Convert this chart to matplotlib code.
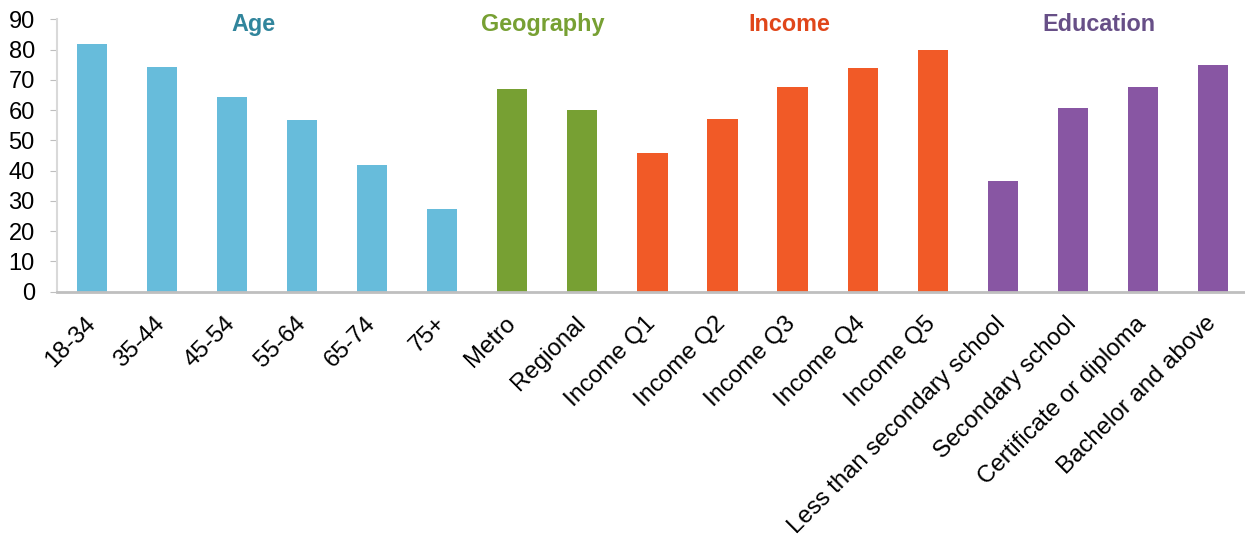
import matplotlib
matplotlib.use("Agg")
import matplotlib.pyplot as plt
import matplotlib.transforms as mtransforms
import numpy as np

plt.rcParams['font.family'] = ['Liberation Sans', 'DejaVu Sans']

categories = ['18-34', '35-44', '45-54', '55-64', '65-74', '75+',
              'Metro', 'Regional',
              'Income Q1', 'Income Q2', 'Income Q3', 'Income Q4', 'Income Q5',
              'Less than secondary school', 'Secondary school',
              'Certificate or diploma', 'Bachelor and above']
values = [81.8, 74.4, 64.5, 56.7, 42.0, 27.4,
          66.9, 59.9,
          45.9, 57.1, 67.5, 73.8, 79.9,
          36.6, 60.6, 67.8, 74.9]
groups = ['Age'] * 6 + ['Geography'] * 2 + ['Income'] * 5 + ['Education'] * 4
group_names = ['Age', 'Geography', 'Income', 'Education']
group_label_x = [2.3, 6.43, 9.96, 14.37]

bar_colors = {'Age': '#67BCDB', 'Geography': '#77A033',
              'Income': '#F15A27', 'Education': '#8856A3'}
text_colors = {'Age': '#31859C', 'Geography': '#77A033',
               'Income': '#E0461A', 'Education': '#674F87'}

fig = plt.figure(figsize=(12.45, 5.39), dpi=100)
ax = fig.add_axes([0.0458, 0.459, 0.9565, 0.505])

x = np.arange(len(categories))
ax.bar(x, values, width=0.43, color=[bar_colors[g] for g in groups], zorder=2)

for name, gx in zip(group_names, group_label_x):
    ax.text(gx, 88.4, name, ha='center', va='center', fontsize=16.8,
            fontweight='bold', color=text_colors[name])

ax.set_xlim(-0.5, len(categories) - 0.5)
ax.set_ylim(0, 90)
ax.set_yticks(range(0, 91, 10))
ax.set_xticks(x)
ax.set_xticklabels(categories, rotation=45, ha='right', rotation_mode='anchor')

ax.tick_params(axis='y', labelsize=17, length=5, color='#BFBFBF', pad=11)
ax.tick_params(axis='x', labelsize=17.3, length=0, pad=15)

# nudge the rotated labels left so their ends sit under the bars
offset = mtransforms.ScaledTranslation(-0.08, 0, fig.dpi_scale_trans)
for lab in ax.get_xticklabels():
    lab.set_transform(lab.get_transform() + offset)

for s in ['top', 'right']:
    ax.spines[s].set_visible(False)
ax.spines['left'].set_color('#D9D9D9')
ax.spines['bottom'].set_color('#BFBFBF')
ax.spines['left'].set_linewidth(1.5)
ax.spines['bottom'].set_linewidth(2)

fig.savefig('out.png', dpi=100)
